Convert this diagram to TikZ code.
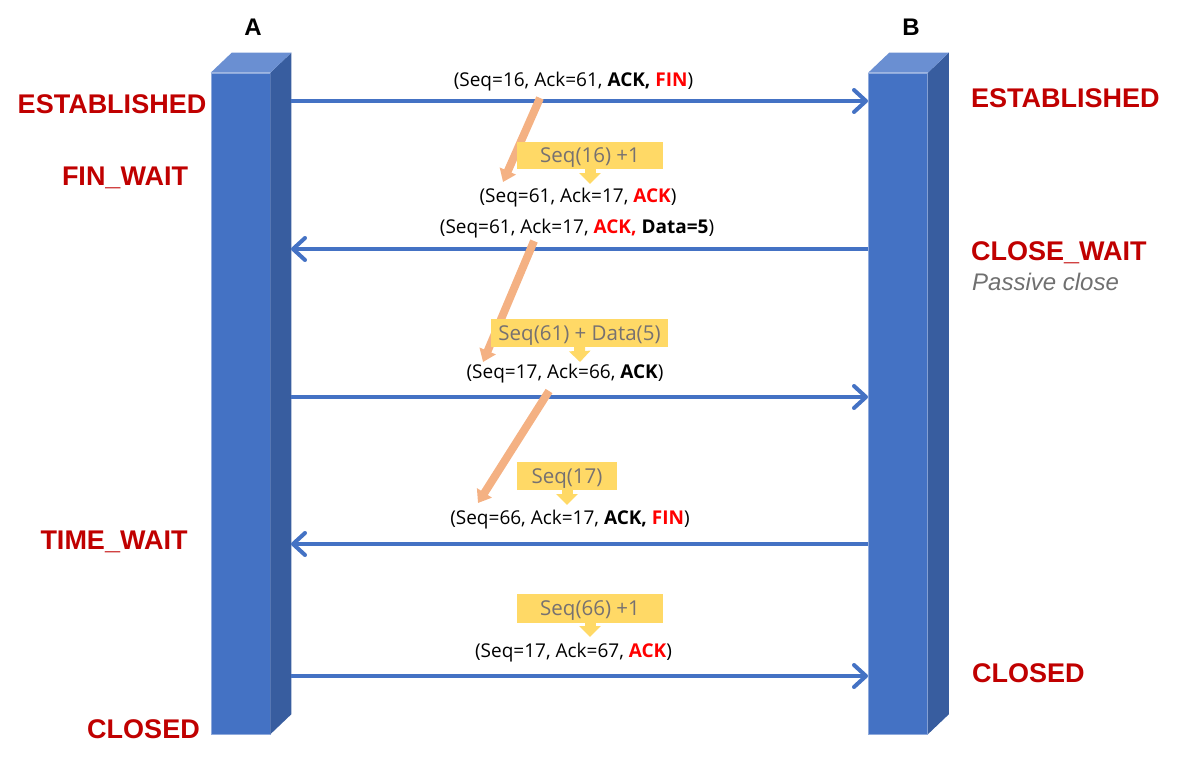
\documentclass[tikz,border=0pt]{standalone}
\usepackage{fontspec}
\setmainfont{Liberation Sans}
\newfontfamily\msgfont{Open Sans}
\usetikzlibrary{arrows.meta}
\definecolor{barfront}{HTML}{4472C4}
\definecolor{barside}{HTML}{385D9F}
\definecolor{bartop}{HTML}{6A8FD2}
\definecolor{barline}{HTML}{8FAADC}
\definecolor{statered}{HTML}{C00000}
\definecolor{ackred}{HTML}{FF0000}
\definecolor{ylw}{HTML}{FFD966}
\definecolor{orng}{HTML}{F4B183}
\definecolor{boxtext}{RGB}{118,113,113}
\definecolor{passgray}{RGB}{112,112,112}
\begin{document}
\begin{tikzpicture}[x=1pt,y=-1pt,
  front/.style={rectangle,fill=barfront,draw=barline,line width=0.6pt,inner sep=0pt,minimum width=59pt,minimum height=661pt},
  sideface/.style={fill=barside},
  topface/.style={fill=bartop},
  state/.style={font=\fontsize{27}{32}\selectfont\bfseries,text=statered,inner sep=0pt,anchor=base},
  statew/.style={state,anchor=base west},
  host/.style={font=\fontsize{24}{28}\selectfont\bfseries,inner sep=0pt,anchor=base},
  msgtxt/.style={font=\msgfont\fontsize{19}{23}\selectfont,inner sep=0pt,anchor=base},
  calcbox/.style={rectangle,fill=ylw,inner sep=0pt,font=\msgfont\fontsize{20.5}{24}\selectfont,text=boxtext,text height=14.5pt,text depth=0pt},
  msg/.style={draw=barfront,line width=4pt,-{Straight Barb[length=12pt,width=22pt,round]}},
  oarr/.style={draw=orng,line width=8pt,-{Triangle[length=12pt,width=17pt]}},
  yarr/.style={draw=ylw,line width=11pt,-{Triangle[length=11pt,width=21pt]}}
]
\useasboundingbox (0,0) rectangle (1180,760);

% bars
\node[front] (barA) at (240.5,403.5) {};
\node[front] (barB) at (898,403.5) {};
\foreach \b in {barA,barB}{
  \fill[sideface] (\b.north east) -- ++(21,-20) -- ([xshift=21pt,yshift=20pt]\b.south east) -- (\b.south east) -- cycle;
  \fill[topface] (\b.north west) -- (\b.north east) -- ++(21,-20) -- ([xshift=21pt,yshift=20pt]\b.north west) -- cycle;
}

% host labels
\node[host] (hA) at (253,36) {A};
\node[host] (hB) at (911,36) {B};

% state labels
\node[state] (sA1) at (112,113) {ESTABLISHED};
\node[state] (sA2) at (125,185) {FIN\_WAIT};
\node[state] (sA3) at (114,549) {TIME\_WAIT};
\node[state] (sA4) at (143.5,738) {CLOSED};
\node[statew] (sB1) at (971,107) {ESTABLISHED};
\node[statew] (sB2) at (971,260) {CLOSE\_WAIT};
\node[font=\fontsize{24}{28}\selectfont\itshape,text=passgray,inner sep=0pt,anchor=base west] (sB3) at (972,290) {Passive close};
\node[statew] (sB4) at (972,682) {CLOSED};

% connector end points
\coordinate (a1) at (291,101); \coordinate (b1) at (868,101);
\coordinate (a2) at (291,249); \coordinate (b2) at (868,249);
\coordinate (a3) at (291,397); \coordinate (b3) at (868,397);
\coordinate (a4) at (291,544); \coordinate (b4) at (868,544);
\coordinate (a5) at (291,676); \coordinate (b5) at (868,676);

\draw[msg] (a1) -- (b1);
\draw[msg] (b2) -- (a2);
\draw[msg] (a3) -- (b3);
\draw[msg] (b4) -- (a4);
\draw[msg] (a5) -- (b5);

% orange arrows
\coordinate (o1s) at (540,98);  \coordinate (o1e) at (503,182);
\coordinate (o2s) at (534,241); \coordinate (o2e) at (483,362);
\coordinate (o3s) at (549,391); \coordinate (o3e) at (478,503);
\draw[oarr] (o1s) -- (o1e);
\draw[oarr] (o2s) -- (o2e);
\draw[oarr] (o3s) -- (o3e);

% yellow calc boxes
\coordinate (y1) at (590,184);
\coordinate (y2) at (580,362);
\coordinate (y3) at (567,505);
\coordinate (y4) at (590,637);
\node[calcbox,minimum width=146pt,minimum height=27pt] (c1) at (590,155.5) {Seq(16) +1};
\node[calcbox,minimum width=177pt,minimum height=28pt] (c2) at (579.5,333) {Seq(61) + Data(5)};
\node[calcbox,minimum width=100pt,minimum height=28pt] (c3) at (567,476) {Seq(17)};
\node[calcbox,minimum width=146pt,minimum height=29pt] (c4) at (590,608.5) {Seq(66) +1};
\draw[yarr] ([yshift=2pt]c1.south) -- (y1);
\draw[yarr] ([yshift=2pt]c2.south) -- (y2);
\draw[yarr] ([yshift=2pt]c3.south) -- (y3);
\draw[yarr] ([yshift=2pt]c4.south) -- (y4);

% message texts
\node[msgtxt] (m1) at (573.5,86) {(Seq=16, Ack=61, \textbf{ACK,} \textcolor{ackred}{\textbf{FIN}})};
\node[msgtxt] (m2) at (578,202) {(Seq=61, Ack=17, \textcolor{ackred}{\textbf{ACK}})};
\node[msgtxt] (m3) at (577,233) {(Seq=61, Ack=17, \textcolor{ackred}{\textbf{ACK,}} \textbf{Data=5})};
\node[msgtxt] (m4) at (565,378) {(Seq=17, Ack=66, \textbf{ACK})};
\node[msgtxt] (m5) at (570,524) {(Seq=66, Ack=17, \textbf{ACK,} \textcolor{ackred}{\textbf{FIN}})};
\node[msgtxt] (m6) at (573.5,657) {(Seq=17, Ack=67, \textcolor{ackred}{\textbf{ACK}})};
\end{tikzpicture}
\end{document}
